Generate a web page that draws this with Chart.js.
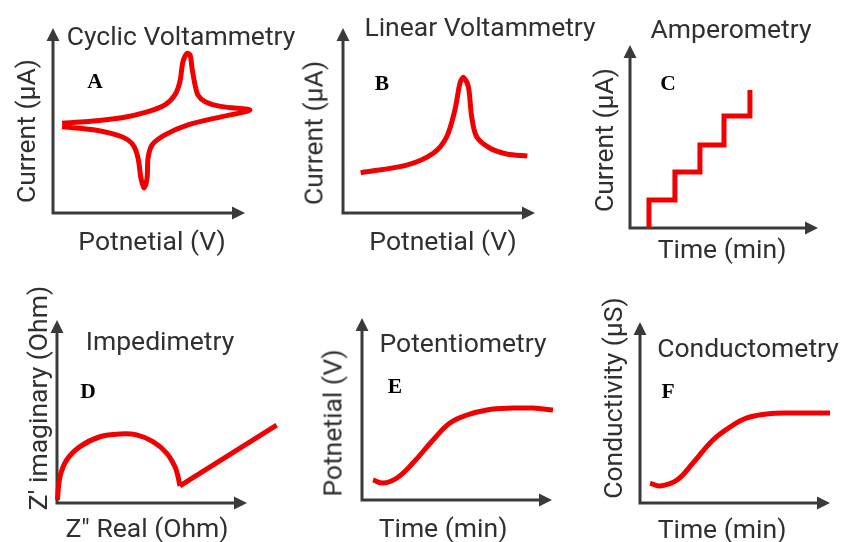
<!DOCTYPE html>
<html>
<head>
<meta charset="utf-8">
<script src="https://cdn.jsdelivr.net/npm/chart.js@4.4.0/dist/chart.umd.min.js"></script>
<style>
html, body { margin: 0; padding: 0; background: #fff; }
#wrap { position: relative; width: 841px; height: 542px; overflow: hidden; }
#wrap canvas { position: absolute; left: 0; top: 0; }
.t { position: absolute; transform: translate(-50%, -50%); white-space: nowrap;
     font-family: Roboto, 'Noto Sans', sans-serif; font-size: 26.5px; color: #303030; z-index: 2; }
.v { transform: translate(-50%, -50%) rotate(-90deg); }
.k { position: absolute; transform: translate(-50%, -50%); font-family: 'Liberation Serif', serif;
     font-weight: bold; font-size: 21.5px; color: #000; z-index: 2; }
</style>
</head>
<body>
<div id="wrap">
  <!-- titles -->
  <div class="t" style="left:181px;top:35px">Cyclic Voltammetry</div>
  <div class="t" style="left:480px;top:26px">Linear Voltammetry</div>
  <div class="t" style="left:731px;top:28px">Amperometry</div>
  <div class="t" style="left:160px;top:340px">Impedimetry</div>
  <div class="t" style="left:463px;top:342px">Potentiometry</div>
  <div class="t" style="left:748px;top:347px">Conductometry</div>
  <!-- panel letters -->
  <div class="k" style="left:95px;top:81px">A</div>
  <div class="k" style="left:382px;top:83px">B</div>
  <div class="k" style="left:668px;top:83px">C</div>
  <div class="k" style="left:88px;top:391px">D</div>
  <div class="k" style="left:395px;top:386px">E</div>
  <div class="k" style="left:668px;top:391px">F</div>
  <!-- axis labels -->
  <div class="t" style="left:152px;top:240px">Potnetial (V)</div>
  <div class="t v" style="left:25px;top:131px">Current (μA)</div>
  <div class="t" style="left:443px;top:240px">Potnetial (V)</div>
  <div class="t v" style="left:313px;top:133px">Current (μA)</div>
  <div class="t" style="left:722px;top:248px">Time (min)</div>
  <div class="t v" style="left:603px;top:140px">Current (μA)</div>
  <div class="t" style="left:147px;top:527px">Z" Real (Ohm)</div>
  <div class="t v" style="left:37px;top:398px">Z' imaginary (Ohm)</div>
  <div class="t" style="left:443px;top:527px">Time (min)</div>
  <div class="t v" style="left:332px;top:423px">Potnetial (V)</div>
  <div class="t" style="left:722px;top:528px">Time (min)</div>
  <div class="t v" style="left:612px;top:398px">Conductivity (μS)</div>
</div>
<script>
// every panel uses 0-100 units on both axes (100 = arrow tip)

// A - cyclic voltammogram (forward scan then reverse scan)
var cvPotential = [4.7, 18.2, 35.9, 49.5, 58.3, 63.5, 66.1, 67.7, 69.8, 71.4, 72.4, 74.0, 75.5, 79.2, 88.0, 102.6,
                   88.0, 70.3, 58.3, 51.6, 49.5, 49.0, 47.4, 45.8, 44.3, 41.7, 35.9, 21.9, 4.7];
var cvCurrent   = [48.5, 49.4, 51.5, 54.8, 58.4, 63.8, 71.0, 81.8, 86.3, 85.4, 78.4, 69.2, 63.8, 60.2, 57.5, 55.7,
                   52.1, 47.6, 42.2, 36.8, 29.7, 18.9, 13.5, 18.9, 29.7, 36.8, 41.2, 44.9, 46.6];

// B - linear sweep
var lsvPotential = [9.2, 33.2, 47.0, 54.0, 58.3, 60.9, 62.7, 65.3, 67.0, 69.6, 76.6, 85.3, 96.0];
var lsvCurrent   = [21.8, 25.9, 32.3, 41.2, 55.7, 70.1, 73.4, 68.3, 52.1, 41.2, 35.0, 31.9, 30.8];

// C - amperometric steps
var ampTime    = [10.1, 10.1, 23.9, 37.2, 50.0, 63.8];
var ampCurrent = [0, 15.3, 30.6, 45.4, 61.2, 75.4];

// D - Nyquist plot: semicircle + diffusion tail
var eisArcReal = [0.2, 1.6, 5.1, 12.1, 22.6, 33.2, 41.9, 50.5, 57.7, 62.1, 63.7, 64.7];
var eisArcImag = [1.6, 14.4, 23.5, 30.8, 36.2, 37.7, 37.2, 33.5, 27.3, 19.8, 14.4, 9.3];
var eisTailReal = [64.7, 115.6];
var eisTailImag = [9.3, 42.6];

// E - potentiometry
var potTime      = [5.8, 11.1, 18.4, 26.8, 37.4, 46.3, 55.3, 65.8, 79.5, 90.0, 100.5];
var potPotential = [11.0, 9.3, 12.1, 20.3, 33.0, 42.3, 46.7, 49.5, 50.5, 50.5, 49.5];

// F - conductometry
var condTime  = [5.3, 10.5, 19.5, 27.9, 38.4, 47.4, 56.3, 66.8, 80.5, 100.0];
var condValue = [11.0, 9.4, 12.7, 22.1, 34.8, 42.0, 47.0, 49.2, 49.7, 49.7];

var W = 841, H = 542;
var RED = '#f00000';

var arrowAxes = {
	id: 'arrowAxes',
	beforeDatasetsDraw: function(chart) {
		var a = chart.chartArea, c = chart.ctx;
		var len = 13, half = 6.5;
		c.save();
		c.strokeStyle = '#3a3a3a';
		c.fillStyle = '#3a3a3a';
		c.lineWidth = 3;
		c.lineJoin = 'miter';
		c.beginPath();
		c.moveTo(a.left, a.top + len - 1);
		c.lineTo(a.left, a.bottom);
		c.lineTo(a.right - len + 1, a.bottom);
		c.stroke();
		c.beginPath();
		c.moveTo(a.left, a.top);
		c.lineTo(a.left - half, a.top + len);
		c.lineTo(a.left + half, a.top + len);
		c.closePath();
		c.moveTo(a.right, a.bottom);
		c.lineTo(a.right - len, a.bottom - half);
		c.lineTo(a.right - len, a.bottom + half);
		c.closePath();
		c.fill();
		c.restore();
	}
};

function pts(xs, ys) {
	return xs.map(function(x, i) { return {x: x, y: ys[i]}; });
}

function curve(xs, ys, extra) {
	var ds = {
		data: pts(xs, ys),
		showLine: true,
		borderColor: RED,
		borderWidth: 5,
		pointRadius: 0,
		tension: 0.3,
		fill: false,
		clip: false
	};
	for (var k in extra) ds[k] = extra[k];
	return ds;
}

// frame = [left, top, right, bottom] of the axes in page pixels
function panel(frame, datasets) {
	var cv = document.createElement('canvas');
	cv.width = W;
	cv.height = H;
	document.getElementById('wrap').appendChild(cv);
	return new Chart(cv.getContext('2d'), {
		type: 'scatter',
		data: { datasets: datasets },
		options: {
			responsive: false,
			animation: false,
			events: [],
			layout: { padding: { left: frame[0], top: frame[1], right: W - frame[2], bottom: H - frame[3] } },
			scales: {
				x: { type: 'linear', display: false, min: 0, max: 100 },
				y: { type: 'linear', display: false, min: 0, max: 100 }
			},
			plugins: { legend: { display: false }, tooltip: { enabled: false } }
		},
		plugins: [arrowAxes]
	});
}

panel([53, 28, 245, 213], [curve(cvPotential, cvCurrent, {tension: 0.3})]);
panel([343, 28, 535, 213], [curve(lsvPotential, lsvCurrent)]);
panel([630, 45, 818, 228], [curve(ampTime, ampCurrent, {tension: 0, stepped: 'before', borderJoinStyle: 'miter', borderCapStyle: 'butt'})]);
panel([57, 320, 247, 503], [
	curve(eisArcReal, eisArcImag, {tension: 0.35}),
	curve(eisTailReal, eisTailImag, {tension: 0, borderCapStyle: 'butt'})
]);
panel([362, 318, 552, 500], [curve(potTime, potPotential, {tension: 0.4})]);
panel([640, 322, 830, 503], [curve(condTime, condValue, {tension: 0.4})]);
</script>
</body>
</html>
